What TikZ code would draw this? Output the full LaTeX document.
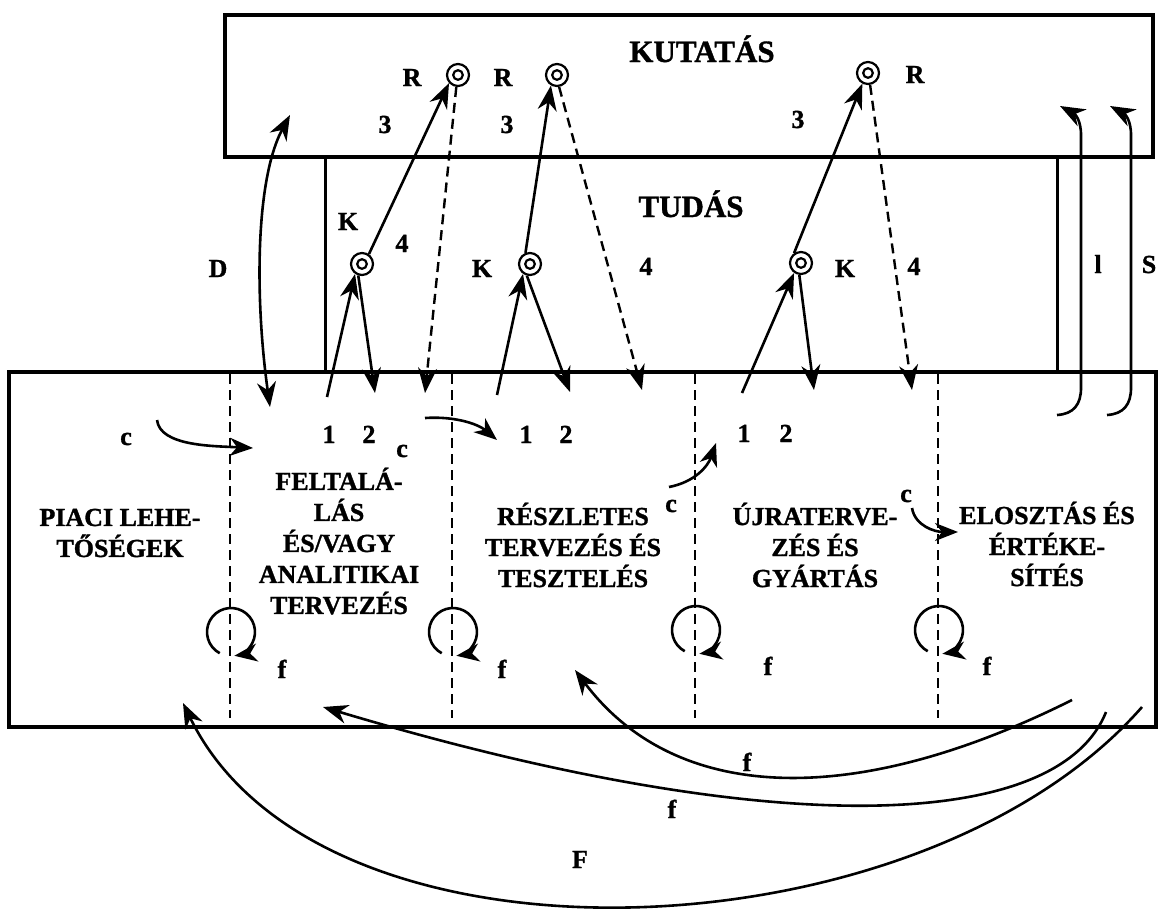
\documentclass[tikz,border=0pt]{standalone}
\usepackage{fontspec}
\setmainfont{Liberation Serif}[BoldFeatures={FakeBold=1.2}]
\usetikzlibrary{arrows.meta}
\tikzset{
  box/.style={draw, line width=3.2pt},
  wall/.style={draw, line width=3pt},
  divider/.style={line width=2.4pt, dash pattern=on 10pt off 6pt},
  lbl/.style={font=\fontsize{26}{31}\selectfont\bfseries, inner sep=0pt, anchor=base},
  head/.style={font=\fontsize{31}{36}\selectfont\bfseries, inner sep=0pt, anchor=base},
  block/.style={font=\fontsize{26}{31}\selectfont\bfseries, align=center, inner sep=0pt},
  dcirc/.style={circle, draw, line width=2.2pt, minimum size=22pt, inner sep=0pt,
    path picture={\draw[line width=2.2pt] (path picture bounding box.center) circle[radius=4.8pt];}},
  tipbig/.tip={Stealth[length=25pt,width=19pt,inset=8pt]},
  arr/.style={line width=2.6pt, -tipbig},
  darr/.style={line width=2.4pt, dash pattern=on 10pt off 6pt, -tipbig},
  dblarr/.style={line width=2.6pt, tipbig-tipbig},
  looparr/.style={line width=2.6pt, -{Stealth[length=23pt,width=18pt,inset=7pt]}},
  carr/.style={line width=2.6pt, -{Stealth[length=23pt,width=18pt,inset=7pt]}},
}
\begin{document}
\begin{tikzpicture}[x=1pt,y=-1pt]
\useasboundingbox (0,0) rectangle (1159,911);

% ---------- frames ----------
\coordinate (kNW) at (225,15);  \coordinate (kSE) at (1153,157);
\draw[box] (kNW) rectangle (kSE);
\coordinate (bNW) at (9,372);   \coordinate (bSE) at (1156,727);
\draw[box] (bNW) rectangle (bSE);
\coordinate (tw1a) at (325,157);  \coordinate (tw1b) at (325,372);
\coordinate (tw2a) at (1057,157); \coordinate (tw2b) at (1057,372);
\draw[wall] (tw1a) -- (tw1b);
\draw[wall] (tw2a) -- (tw2b);

% ---------- dividers ----------
\foreach \i/\x in {1/230,2/452,3/695,4/938}{
  \coordinate (dv\i a) at (\x,374);
  \coordinate (dv\i b) at (\x,718);
  \draw[divider] (dv\i a) -- (dv\i b);
}

% ---------- headings ----------
\node[head] (kutatas) at (702,62) {KUTATÁS};
\node[head] (tudas) at (691,217) {TUDÁS};

% ---------- research / knowledge markers ----------
\node[dcirc] (R1) at (458,75) {};
\node[dcirc] (R2) at (557,75) {};
\node[dcirc] (R3) at (868,73) {};
\node[dcirc] (K1) at (362,264) {};
\node[dcirc] (K2) at (530,264) {};
\node[dcirc] (K3) at (801,263) {};

\node[lbl] (lR1) at (412,86) {R};
\node[lbl] (lR2) at (503,86) {R};
\node[lbl] (lR3) at (915,83) {R};
\node[lbl] (l31) at (385,133) {3};
\node[lbl] (l32) at (507,133) {3};
\node[lbl] (l33) at (798,128) {3};
\node[lbl] (lK1) at (348,230) {K};
\node[lbl] (l41) at (402,252) {4};
\node[lbl] (lK2) at (482,277) {K};
\node[lbl] (l42) at (646,275) {4};
\node[lbl] (lK3) at (845,277) {K};
\node[lbl] (l43) at (914,275) {4};
\node[lbl] (lD) at (218,277) {D};
\node[lbl] (ll) at (1098,273) {l};
\node[lbl] (lS) at (1149,273) {S};

% ---------- K -> R and R -> box ----------
\draw[arr] (K1.55) -- (R1.222);
\draw[arr] (K2.112) -- (R2.240);
\draw[arr] (K3.125) -- (R3.242);

\coordinate (dR1) at (425,393);
\coordinate (dR2) at (642,390);
\coordinate (dR3) at (912,390);
\draw[darr] (R1.262) -- (dR1);
\draw[darr] (R2.280) -- (dR2);
\draw[darr] (R3.280) -- (dR3);

% ---------- 1 -> K -> 2 ----------
\coordinate (u1) at (327,397); \coordinate (v1) at (375,393);
\coordinate (u2) at (497,395); \coordinate (v2) at (570,392);
\coordinate (u3) at (742,393); \coordinate (v3) at (814,390);
\draw[arr] (u1) -- (K1.235);
\draw[arr] (K1.252) -- (v1);
\draw[arr] (u2) -- (K2.235);
\draw[arr] (K2.255) -- (v2);
\draw[arr] (u3) -- (K3.235);
\draw[arr] (K3.262) -- (v3);

% ---------- D double arrow ----------
\coordinate (Db) at (270,407); \coordinate (Dt) at (290,115);
\draw[dblarr] (Db) .. controls (255,300) and (255,180) .. (Dt);

% ---------- l and S hooks ----------
\coordinate (hl0) at (1057,415); \coordinate (hl1) at (1060,106);
\draw[arr] (hl0) .. controls (1074,414) and (1081,404) .. (1081,388) -- (1081,135)
   .. controls (1081,120) and (1075,114) .. (hl1);
\coordinate (hs0) at (1107,415); \coordinate (hs1) at (1110,106);
\draw[arr] (hs0) .. controls (1124,414) and (1131,404) .. (1131,388) -- (1131,135)
   .. controls (1131,120) and (1125,114) .. (hs1);

% ---------- labels inside the lower box ----------
\node[lbl] (c1) at (126,445) {c};
\node[lbl] (n11) at (329,443) {1};
\node[lbl] (n21) at (369,443) {2};
\node[lbl] (c2) at (402,457) {c};
\node[lbl] (n12) at (526,443) {1};
\node[lbl] (n22) at (566,443) {2};
\node[lbl] (n13) at (744,442) {1};
\node[lbl] (n23) at (786,442) {2};
\node[lbl] (c3) at (671,512) {c};
\node[lbl] (c4) at (906,502) {c};

\coordinate (c1s) at (157,420); \coordinate (c1e) at (253,448);
\draw[carr] (c1s) .. controls (160,446) and (212,446) .. (c1e);
\coordinate (c2s) at (425,418); \coordinate (c2e) at (497,440);
\draw[carr] (c2s) .. controls (455,416) and (478,424) .. (c2e);
\coordinate (c3s) at (669,487); \coordinate (c3e) at (716,443);
\draw[carr] (c3s) .. controls (695,482) and (708,466) .. (c3e);
\coordinate (c4s) at (912,508); \coordinate (c4e) at (958,532);
\draw[carr] (c4s) .. controls (915,526) and (935,532) .. (c4e);

\node[block] (piaci) at (120,533) {PIACI LEHE-\\TŐSÉGEK};
\node[block] (felt) at (339,541) {FELTALÁ-\\LÁS\\ÉS/VAGY\\ANALITIKAI\\TERVEZÉS};
\node[block] (reszl) at (573,545) {RÉSZLETES\\TERVEZÉS ÉS\\TESZTELÉS};
\node[block] (ujra) at (815,545) {ÚJRATERVE-\\ZÉS ÉS\\GYÁRTÁS};
\node[block] (eloszt) at (1047,544) {ELOSZTÁS ÉS\\ÉRTÉKE-\\SÍTÉS};

% ---------- feedback loops at dividers ----------
\foreach \i/\x/\y in {1/231/632,2/453/632,3/696/630,4/939/630}{
  \coordinate (L\i) at (\x,\y);
  \draw[looparr] ([shift={(118:24)}]L\i) arc[start angle=118, end angle=442, radius=24];
}
\node[lbl] (f1) at (282,678) {f};
\node[lbl] (f2) at (502,678) {f};
\node[lbl] (f3) at (768,675) {f};
\node[lbl] (f4) at (987,675) {f};

% ---------- long feedback arcs ----------
\coordinate (a1s) at (1072,700); \coordinate (a1e) at (575,670);
\draw[arr] (a1s) .. controls (852,810) and (675,803) .. (a1e);
\coordinate (a2s) at (1106,712); \coordinate (a2e) at (323,707);
\draw[arr] (a2s) .. controls (1058,832) and (773,842) .. (a2e);
\coordinate (a3s) at (1142,707); \coordinate (a3e) at (183,703);
\draw[arr] (a3s) .. controls (920,960) and (320,985) .. (a3e);

\node[lbl] (fa1) at (747,771) {f};
\node[lbl] (fa2) at (672,818) {f};
\node[lbl] (Fa3) at (580,868) {F};
\end{tikzpicture}
\end{document}
